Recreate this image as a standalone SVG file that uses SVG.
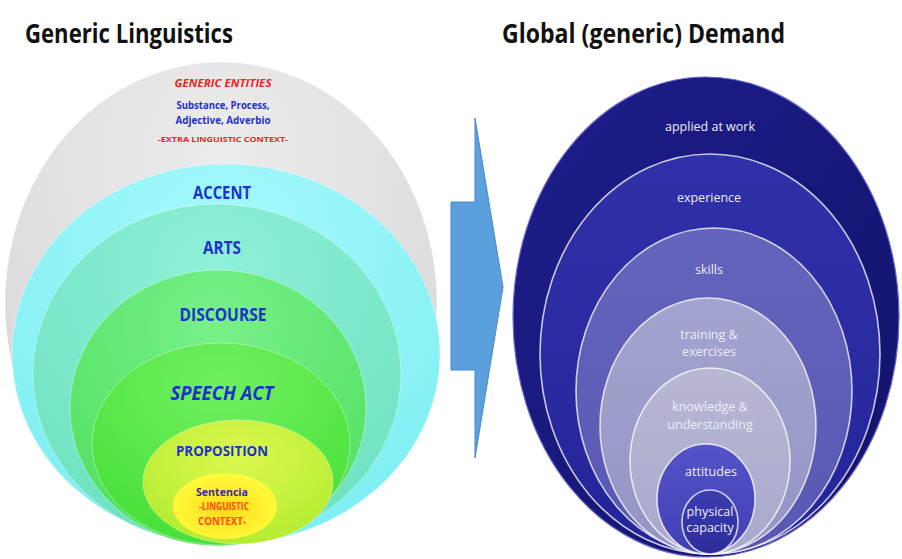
<svg xmlns="http://www.w3.org/2000/svg" width="902" height="559" viewBox="0 0 902 559">
<defs>
<radialGradient id="gGray" cx="0.5" cy="0.2" r="0.8"><stop offset="0" stop-color="#ececec"/><stop offset="1" stop-color="#d6d6d6"/></radialGradient>
<radialGradient id="gCyan" cx="0.5" cy="0.2" r="0.8"><stop offset="0" stop-color="#a6f9fc"/><stop offset="1" stop-color="#7eeef2"/></radialGradient>
<radialGradient id="gTeal" cx="0.5" cy="0.2" r="0.8"><stop offset="0" stop-color="#8ef0d8"/><stop offset="1" stop-color="#6ee2c0"/></radialGradient>
<radialGradient id="gGreen1" cx="0.5" cy="0.2" r="0.8"><stop offset="0" stop-color="#78f08a"/><stop offset="1" stop-color="#50e060"/></radialGradient>
<radialGradient id="gGreen2" cx="0.5" cy="0.2" r="0.8"><stop offset="0" stop-color="#70f060"/><stop offset="1" stop-color="#48e038"/></radialGradient>
<radialGradient id="gYG" cx="0.5" cy="0.3" r="0.7"><stop offset="0" stop-color="#dcf850"/><stop offset="1" stop-color="#b4ec30"/></radialGradient>
<radialGradient id="gYel" cx="0.5" cy="0.55" r="0.6"><stop offset="0" stop-color="#ffd818"/><stop offset="0.6" stop-color="#fff030"/><stop offset="1" stop-color="#ffff40"/></radialGradient>
<linearGradient id="gNavy" x1="0" y1="0" x2="1" y2="1"><stop offset="0" stop-color="#1e1e8c"/><stop offset="1" stop-color="#12126a"/></linearGradient>
<linearGradient id="gExp" x1="0" y1="0" x2="0" y2="1"><stop offset="0" stop-color="#3030a8"/><stop offset="1" stop-color="#24249a"/></linearGradient>
<linearGradient id="gSkill" x1="0" y1="0" x2="0" y2="1"><stop offset="0" stop-color="#6464bc"/><stop offset="1" stop-color="#5858b4"/></linearGradient>
<linearGradient id="gTrain" x1="0" y1="0" x2="0" y2="1"><stop offset="0" stop-color="#a4a4d0"/><stop offset="1" stop-color="#9494c4"/></linearGradient>
<linearGradient id="gKnow" x1="0" y1="0" x2="0" y2="1"><stop offset="0" stop-color="#b8b8d4"/><stop offset="1" stop-color="#a8a8cc"/></linearGradient>
<linearGradient id="gAtt" x1="0" y1="0" x2="0" y2="1"><stop offset="0" stop-color="#5454c8"/><stop offset="1" stop-color="#4040b4"/></linearGradient>
<linearGradient id="gPhys" x1="0" y1="0" x2="0" y2="1"><stop offset="0" stop-color="#3c3cb0"/><stop offset="1" stop-color="#2c2c9c"/></linearGradient>
</defs>
<style>
.title{font-family:"Open Sans","Liberation Sans",sans-serif;font-weight:bold;font-size:26px;fill:#111;}
.lb{font-family:"Open Sans","Liberation Sans",sans-serif;font-weight:bold;fill:#1e32c8;text-anchor:middle;}
.red{font-family:"Open Sans","Liberation Sans",sans-serif;font-weight:bold;fill:#e82424;text-anchor:middle;}
.rt{font-family:"Open Sans","Liberation Sans",sans-serif;font-size:12.5px;fill:#ececf8;text-anchor:middle;}
.rim{stroke:#ffffff;stroke-opacity:0.75;stroke-width:1.6;}
.lrim{stroke:#ffffff;stroke-opacity:0.35;stroke-width:1;}
</style>
<rect width="902" height="559" fill="#ffffff"/>
<text class="title" x="25" y="43" textLength="208" lengthAdjust="spacingAndGlyphs">Generic Linguistics</text>
<text class="title" x="502" y="43" textLength="283" lengthAdjust="spacingAndGlyphs">Global (generic) Demand</text>

<g id="left-diagram">
<g id="generic-entities">
<ellipse cx="221" cy="303" rx="216" ry="241" fill="url(#gGray)" class="lrim"/>
<text class="red" x="223" y="87" font-size="11" font-style="italic" textLength="97" lengthAdjust="spacingAndGlyphs">GENERIC ENTITIES</text>
<text class="lb" x="223" y="109" font-size="10" textLength="93" lengthAdjust="spacingAndGlyphs">Substance, Process,</text>
<text class="lb" x="223" y="124" font-size="10" textLength="95" lengthAdjust="spacingAndGlyphs">Adjective, Adverbio</text>
<text class="red" x="223" y="142" font-size="7.5" textLength="130" lengthAdjust="spacingAndGlyphs">-EXTRA LINGUISTIC CONTEXT-</text>
</g>
<g id="accent">
<ellipse cx="226" cy="354" rx="214" ry="190" fill="url(#gCyan)" class="lrim"/>
<text class="lb" x="222" y="199" font-size="17" textLength="58" lengthAdjust="spacingAndGlyphs">ACCENT</text>
</g>
<g id="arts">
<ellipse cx="217" cy="374" rx="184" ry="170" fill="url(#gTeal)" class="lrim"/>
<text class="lb" x="222" y="254" font-size="17" textLength="38" lengthAdjust="spacingAndGlyphs">ARTS</text>
</g>
<g id="discourse">
<ellipse cx="218" cy="408" rx="148" ry="138" fill="url(#gGreen1)" class="lrim"/>
<text class="lb" x="223" y="321" font-size="17" textLength="87" lengthAdjust="spacingAndGlyphs">DISCOURSE</text>
</g>
<g id="speech-act">
<ellipse cx="221" cy="444" rx="129" ry="101" fill="url(#gGreen2)" class="lrim"/>
<text class="lb" x="222" y="400" font-size="20" font-style="italic" textLength="103" lengthAdjust="spacingAndGlyphs">SPEECH ACT</text>
</g>
<g id="proposition">
<ellipse cx="238" cy="482" rx="95" ry="62" fill="url(#gYG)" class="lrim"/>
<text class="lb" x="222" y="456" font-size="15" textLength="92" lengthAdjust="spacingAndGlyphs">PROPOSITION</text>
</g>
<g id="sentencia">
<ellipse cx="225" cy="506" rx="52" ry="33" fill="url(#gYel)"/>
<text class="lb" x="222" y="496" font-size="11" style="fill:#3c2c90" textLength="52" lengthAdjust="spacingAndGlyphs">Sentencia</text>
<text class="red" x="224" y="510" font-size="10" style="fill:#ff4a10" textLength="50" lengthAdjust="spacingAndGlyphs">-LINGUISTIC</text>
<text class="red" x="222" y="525" font-size="10" style="fill:#ff4a10" textLength="48" lengthAdjust="spacingAndGlyphs">CONTEXT-</text>
</g>
</g>

<g id="connectors">
<path d="M451,202 L475,202 L475,118 L503,287 L475,458 L475,370 L451,370 Z" fill="#5aa0dc" stroke="#4a88c4" stroke-width="1"/>
</g>

<g id="right-diagram">
<g id="applied-at-work">
<ellipse cx="706" cy="317" rx="193" ry="240" fill="url(#gNavy)" stroke="#6a6ad0" stroke-width="1.2"/>
<text class="rt" x="710" y="131">applied at work</text>
</g>
<g id="experience">
<ellipse cx="710" cy="354" rx="170" ry="200" fill="url(#gExp)" class="rim"/>
<text class="rt" x="709" y="202">experience</text>
</g>
<g id="skills">
<ellipse cx="714" cy="391" rx="138" ry="163" fill="url(#gSkill)" class="rim"/>
<text class="rt" x="709" y="274">skills</text>
</g>
<g id="training">
<ellipse cx="708" cy="426" rx="108" ry="128" fill="url(#gTrain)" class="rim"/>
<text class="rt" x="709" y="339">training &amp;</text>
<text class="rt" x="709" y="356">exercises</text>
</g>
<g id="knowledge">
<ellipse cx="710" cy="461" rx="80" ry="93" fill="url(#gKnow)" class="rim"/>
<text class="rt" x="710" y="411">knowledge &amp;</text>
<text class="rt" x="710" y="429">understanding</text>
</g>
<g id="attitudes">
<ellipse cx="706" cy="499" rx="49" ry="55" fill="url(#gAtt)" class="rim"/>
<text class="rt" x="711" y="476" font-size="11">attitudes</text>
</g>
<g id="physical-capacity">
<ellipse cx="710" cy="522" rx="28" ry="32" fill="url(#gPhys)" class="rim"/>
<text class="rt" x="710" y="516" font-size="8.5">physical</text>
<text class="rt" x="710" y="532" font-size="8.5">capacity</text>
</g>
</g>
</svg>
